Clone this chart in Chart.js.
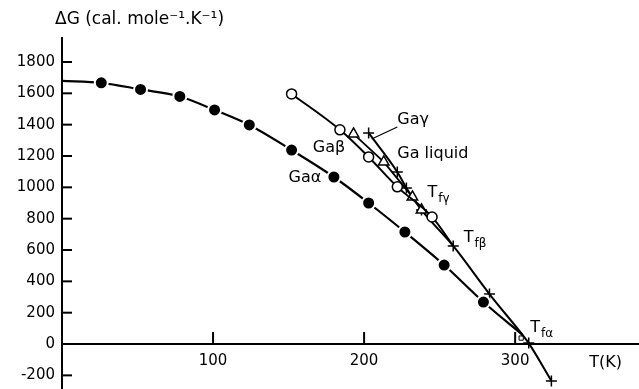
<!DOCTYPE html>
<html>
<head>
<meta charset="utf-8">
<script src="https://cdn.jsdelivr.net/npm/chart.js@4.4.1/dist/chart.umd.min.js"></script>
<style>
  body { margin: 0; background: #fff; }
  #wrap { width: 639px; height: 389px; }
</style>
</head>
<body>
<div id="wrap"><canvas id="chart"></canvas></div>
<script>
// T in K, deltaG in cal mole^-1 K^-1
const alphaT = [0, 26, 52, 78, 101, 124, 152, 180, 203, 227, 253, 279, 305];
const alphaG = [1680, 1667, 1625, 1580, 1494, 1398, 1238, 1066, 900, 715, 504, 268, 57];
const betaT = [152, 184, 203, 222, 245, 259];
const betaG = [1596, 1367, 1194, 1003, 811, 626];
const gammaT = [193, 213, 232, 238];
const gammaG = [1341, 1162, 939, 856];
const liquidT = [203, 222, 228, 238, 259, 283, 305, 309, 324];
const liquidG = [1347, 1098, 996, 856, 626, 319, 57, 6, -236];
const meltT = [304];
const meltG = [38];

const xTicks = [100, 200, 300];
const yTicks = [-200, 0, 200, 400, 600, 800, 1000, 1200, 1400, 1600, 1800];

// curve labels, placed in data units
const notes = [
    { text: "Gaα", t: 150, g: 1059 },
    { text: "Gaβ", t: 166, g: 1251 },
    { text: "Gaγ", t: 222, g: 1429 },
    { text: "Ga liquid", t: 222, g: 1212 },
    { text: "T", sub: "fγ", t: 242, g: 964 },
    { text: "T", sub: "fβ", t: 266, g: 676 },
    { text: "T", sub: "fα", t: 310, g: 102 },
    { text: "T(K)", t: 349, g: -121 }
];
const leader = [[222, 1385], [205, 1308]];

const FONT = "\"DejaVu Sans\"";

function pts(ts, gs) {
    return ts.map((t, i) => ({ x: t, y: gs[i] }));
}

const decorations = {
    id: "decorations",
    afterDraw(chart) {
        const { ctx, chartArea } = chart;
        const x = chart.scales.x;
        const y = chart.scales.y;
        ctx.save();
        ctx.strokeStyle = "#000";
        ctx.fillStyle = "#000";
        ctx.lineWidth = 2;

        // tick marks point into the plot
        y.ticks.forEach(tk => {
            if (tk.value === 0) return;
            const py = y.getPixelForValue(tk.value);
            ctx.beginPath();
            ctx.moveTo(chartArea.left, py);
            ctx.lineTo(chartArea.left + 10, py);
            ctx.stroke();
        });
        const y0 = y.getPixelForValue(0);
        x.ticks.forEach(tk => {
            const px = x.getPixelForValue(tk.value);
            ctx.beginPath();
            ctx.moveTo(px, y0);
            ctx.lineTo(px, y0 - 12);
            ctx.stroke();
        });

        ctx.lineWidth = 1.2;
        ctx.beginPath();
        ctx.moveTo(x.getPixelForValue(leader[0][0]), y.getPixelForValue(leader[0][1]));
        ctx.lineTo(x.getPixelForValue(leader[1][0]), y.getPixelForValue(leader[1][1]));
        ctx.stroke();

        ctx.textAlign = "left";
        ctx.textBaseline = "middle";
        notes.forEach(n => {
            const px = x.getPixelForValue(n.t);
            const py = y.getPixelForValue(n.g);
            ctx.font = "16px " + FONT;
            ctx.fillText(n.text, px, py);
            if (n.sub) {
                const w = ctx.measureText(n.text).width;
                ctx.font = "12px " + FONT;
                ctx.fillText(n.sub, px + w + 1, py + 6);
            }
        });

        ctx.font = "17px " + FONT;
        ctx.fillText("ΔG (cal. mole⁻¹.K⁻¹)", chartArea.left - 7, chartArea.top - 18);
        ctx.restore();
    }
};

const ctx = document.getElementById("chart").getContext("2d");

new Chart(ctx, {
    type: "line",
    data: {
        datasets: [
            {
                label: "Ga alpha",
                data: pts(alphaT, alphaG),
                borderColor: "#000",
                borderWidth: 2.2,
                pointRadius: alphaT.map((t, i) => (i === 0 || i === alphaT.length - 1) ? 0 : 6.5),
                pointBackgroundColor: "#000",
                pointBorderColor: "#fff",
                pointBorderWidth: 2,
                cubicInterpolationMode: "monotone"
            },
            {
                label: "Ga beta",
                data: pts(betaT, betaG),
                borderColor: "#000",
                borderWidth: 2,
                pointRadius: betaT.map((t, i) => i === betaT.length - 1 ? 0 : 5),
                pointBackgroundColor: "#fff",
                pointBorderColor: "#000",
                pointBorderWidth: 1.5,
                cubicInterpolationMode: "monotone"
            },
            {
                label: "Ga gamma",
                data: pts(gammaT, gammaG),
                borderColor: "#000",
                borderWidth: 1.8,
                pointStyle: "triangle",
                pointRadius: 6,
                pointBackgroundColor: "#fff",
                pointBorderColor: "#000",
                pointBorderWidth: 1.5
            },
            {
                label: "Ga liquid",
                data: pts(liquidT, liquidG),
                borderColor: "#000",
                borderWidth: 2,
                pointStyle: "cross",
                pointRadius: liquidT.map(t => t === 305 ? 0 : 5.5),
                pointBorderColor: "#000",
                pointBorderWidth: 1.5,
                cubicInterpolationMode: "monotone"
            },
            {
                label: "melt",
                data: pts(meltT, meltG),
                showLine: false,
                pointStyle: "rect",
                pointRadius: 3,
                pointBackgroundColor: "#fff",
                pointBorderColor: "#000",
                pointBorderWidth: 1
            }
        ]
    },
    options: {
        responsive: true,
        maintainAspectRatio: false,
        animation: false,
        layout: { autoPadding: false, padding: { top: 38, left: 0, right: 0, bottom: 0 } },
        plugins: {
            legend: { display: false },
            tooltip: { enabled: false }
        },
        scales: {
            x: {
                type: "linear",
                position: { y: 0 },
                min: 0,
                max: 382,
                afterBuildTicks: s => { s.ticks = xTicks.map(v => ({ value: v })); },
                afterFit: s => { s.height = 0; s.paddingLeft = 0; s.paddingRight = 0; },
                grid: { display: false, drawTicks: false },
                border: { display: true, color: "#000", width: 2 },
                ticks: { color: "#000", padding: 8, font: { family: "DejaVu Sans", size: 15 } }
            },
            y: {
                type: "linear",
                position: "left",
                min: -287,
                max: 1953,
                afterBuildTicks: s => { s.ticks = yTicks.map(v => ({ value: v })); },
                afterFit: s => { s.width = 62; s.paddingTop = 0; s.paddingBottom = 0; },
                grid: { display: false, drawTicks: false },
                border: { display: true, color: "#000", width: 2 },
                ticks: {
                    color: "#000",
                    padding: 7,
                    font: { family: "DejaVu Sans", size: 15 },
                    callback: v => v === 0 ? "0" : String(v)
                }
            }
        }
    },
    plugins: [decorations]
});
</script>
</body>
</html>
